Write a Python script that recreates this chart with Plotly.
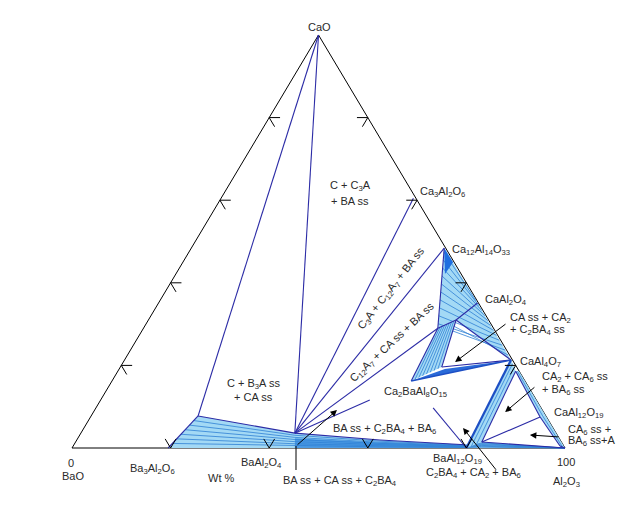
import math
import plotly.graph_objects as go

S3 = math.sqrt(3) / 2

# ---- Data: named compositions (wt% CaO, wt% Al2O3); BaO is the remainder ----
pt_names = ["CaO", "BaO", "Al2O3", "C3A", "C12A7", "CA", "CA2", "CA6", "BAss", "B3A", "BA", "BA6",
            "L1", "C2BA4", "Q", "P1", "W", "F2", "K", "R1", "R2", "R3", "R4", "E1",
            "G1", "G2", "T1", "T2", "Wt", "Wb"]
pt_cao = [100, 0, 0, 60.5, 48.4, 35.1, 21.3, 8.0, 3.6, 0, 0, 0,
          7.75, 16.2, 29.0, 31.0, 19.6, 11.6, 9.7, 18.6, 1.45, 7.5, 0.48, 18.6,
          1.94, 0.8, 45.0, 42.1, 19.1, 17.9]
pt_al2o3 = [0, 0, 100, 39.0, 51.3, 64.7, 78.4, 92.0, 43.4, 19.5, 40, 80,
            21.7, 60.7, 59.7, 62.4, 65.2, 54.6, 68.4, 80.7, 82.4, 91.2, 98.75, 81.4,
            61.5, 79.4, 54.8, 54.6, 66.1, 66.7]

tick_pct = [20, 40, 60, 80]

# tie-line / boundary segments (navy)
navy_segments = [("CaO", "L1"), ("L1", "BAss"), ("CaO", "BAss"), ("BAss", "C3A"), ("BAss", "C12A7"),
                 ("BAss", "Q"), ("BAss", "F2"), ("K", "BA6"), ("C12A7", "Q"), ("Q", "P1"),
                 ("P1", "CA"), ("P1", "CA2"), ("W", "CA2"), ("C2BA4", "Q"), ("W", "P1"),
                 ("R1", "R2"), ("R1", "R3"), ("R2", "R3"), ("R2", "Al2O3"), ("R3", "R4"),
                 ("R4", "Al2O3"), ("L1", "B3A"), ("BAss", "G1"), ("G1", "G2")]

# arrows: (tail CaO, tail Al2O3, head CaO, head Al2O3)
arrow_tail_cao = [30.27, 15.0, 2.66, -5.57, 0.48]
arrow_tail_al = [73.1, 86.6, 97.66, 89.0, 45.2]
arrow_head_cao = [20.8, 8.7, 3.15, 4.84, 9.2]
arrow_head_al = [67.3, 83.5, 91.3, 76.9, 49.15]
leader_cao = [-5.33, 0.48]
leader_al = [48.1, 45.2]


def to_xy(cao, al):
    return (al + cao / 2.0, cao * S3)


P = {n: to_xy(a, c) for n, a, c in zip(pt_names, pt_cao, pt_al2o3)}


def lerp(p, q, t):
    return (p[0] + (q[0] - p[0]) * t, p[1] + (q[1] - p[1]) * t)


def along(path, s):
    segs = []
    tot = 0.0
    for i in range(len(path) - 1):
        d = math.dist(path[i], path[i + 1])
        segs.append(d)
        tot += d
    target = s * tot
    for i, d in enumerate(segs):
        if target <= d or i == len(segs) - 1:
            return lerp(path[i], path[i + 1], min(1.0, target / d if d else 0))
        target -= d


def below(p):
    return (p[0], 0.0)


fig = go.Figure()


def add_line(pts, color, width=1.0, fill=None, fillcolor=None):
    xs, ys = [], []
    for p in pts:
        if p is None:
            xs.append(None); ys.append(None)
        else:
            xs.append(p[0]); ys.append(p[1])
    kw = {}
    if fill:
        kw = dict(fill="toself", fillcolor=fillcolor)
    fig.add_trace(go.Scatter(x=xs, y=ys, mode="lines", line=dict(color=color, width=width),
                             hoverinfo="skip", showlegend=False, **kw))


def add_poly(names_or_pts, fillcolor):
    pts = [P[n] if isinstance(n, str) else n for n in names_or_pts]
    pts.append(pts[0])
    add_line(pts, "rgba(0,0,0,0)", 0, fill=True, fillcolor=fillcolor)


LIGHT = "#a3d9f5"
STRIPE = "#2f80d4"
NAVY = "#2c2ca6"
MID = "#4c9be4"

# triangle outline
add_line([P["BaO"], P["CaO"], P["Al2O3"], P["BaO"]], "black", 1)

# ---- filled phase regions ----
# bottom solid-solution band
top_path = [P["L1"], P["BAss"], P["G1"], P["G2"], P["R2"], P["Al2O3"]]
bot_path = [P["B3A"], below(P["BAss"]), below(P["G1"]), below(P["G2"]), below(P["R2"]), P["Al2O3"]]
add_poly(top_path + bot_path[::-1], LIGHT)
add_poly([lerp(P["BAss"], below(P["BAss"]), 0.35), lerp(P["G1"], below(P["G1"]), 0.3),
          lerp(P["G2"], below(P["G2"]), 0.2), below(P["G2"]), below(P["BAss"])], MID)
pts = []
for i in range(1, 7):
    t = i / 7
    pts += [lerp(a, b, t) for a, b in zip(top_path, bot_path)] + [None]
add_line(pts, STRIPE, 0.8)

# C12A7 - CA - CA2 fan: tie lines from the inner boundary to the edge, converging toward CA2
add_poly(["C12A7", "CA", "CA2", "P1", "Q"], LIGHT)
left_path = [P["C12A7"], P["Q"], P["P1"]]
edge_path = [P["C12A7"], P["CA"], P["CA2"]]
pts = []
for i in range(0, 12):
    s = 0.04 + i * 0.08
    pts += [along(left_path, s), along(edge_path, 0.45 + 0.55 * s), None]
add_line(pts, STRIPE, 0.8)
add_poly(["C12A7", "T1", "T2"], "#1f6fe0")

# fan below Q-P1 toward C2BA4
add_poly(["C2BA4", "Q", "P1", "W"], LIGHT)
pts = []
for i in range(1, 8):
    t = i / 8
    pts += [lerp(P["C2BA4"], P["W"], t), lerp(P["Q"], P["P1"], t), None]
add_line(pts, STRIPE, 0.8)

# dark band C2BA4 - CA2
add_poly(["C2BA4", "Wt", "CA2", "Wb"], "#2a6ad8")

# CA2 - BA6 band
add_poly(["CA2", "R1", "R2", "BA6"], LIGHT)
pts = []
for t in (0.33, 0.66):
    pts += [lerp(P["CA2"], P["R1"], t), lerp(P["BA6"], P["R2"], t), None]
add_line(pts, STRIPE, 0.8)

# CA2 - CA6 band along the edge
add_poly(["R1", "E1", "CA6", "R3"], LIGHT)
add_line([lerp(P["R1"], P["E1"], 0.5), lerp(P["R3"], P["CA6"], 0.5)], STRIPE, 0.8)
# CA6 - A band
add_poly(["R3", "CA6", "Al2O3", "R4"], LIGHT)
add_line([lerp(P["R3"], P["CA6"], 0.5), lerp(P["R4"], P["Al2O3"], 0.5)], STRIPE, 0.8)

# navy boundaries
pts = []
for a, b in navy_segments:
    pts += [P[a], P[b], None]
add_line(pts, NAVY, 1.1)
add_line([P["CA2"], P["BA6"]], "#1d4fc4", 2.2)
add_line([P["C2BA4"], P["CA2"]], "#1d4fc4", 1.5)

# ---- ticks on the three edges ----
d = 2.2
pts = []
for k in tick_pct:
    base = to_xy(0, k)
    pts += [to_xy(d, k - d), base, to_xy(d, k), None]
    base = to_xy(k, 0)
    pts += [to_xy(k, d), base, to_xy(k - d, d), None]
    base = to_xy(k, 100 - k)
    pts += [to_xy(k, 100 - k - d), base, to_xy(k - d, 100 - k), None]
add_line(pts, "black", 1)

# leader line
add_line([to_xy(leader_cao[0], leader_al[0]), to_xy(leader_cao[1], leader_al[1])], "black", 1)

annotations = []
for tc, ta, hc, ha in zip(arrow_tail_cao, arrow_tail_al, arrow_head_cao, arrow_head_al):
    tx, ty = to_xy(tc, ta)
    hx, hy = to_xy(hc, ha)
    annotations.append(dict(x=hx, y=hy, ax=tx, ay=ty, xref="x", yref="y", axref="x", ayref="y",
                            text="", showarrow=True, arrowhead=2, arrowsize=1.3, arrowwidth=1,
                            arrowcolor="black"))

FONT = dict(family="Liberation Sans, Arial, sans-serif", size=11, color="#2a2a2a")


def label(x, y, text, xanchor="center", angle=0):
    annotations.append(dict(x=x, y=y, xref="x", yref="y", text=text, showarrow=False,
                            xanchor=xanchor, yanchor="middle", textangle=angle, font=FONT))


label(50.3, 88.3, "CaO")
label(70.2, 53.7, "Ca<sub>3</sub>Al<sub>2</sub>O<sub>6</sub>", "left")
label(56.4, 54.9, "C + C<sub>3</sub>A")
label(56.4, 51.8, "+ BA ss")
label(76.7, 41.5, "Ca<sub>12</sub>Al<sub>14</sub>O<sub>33</sub>", "left")
label(83.4, 31.0, "CaAl<sub>2</sub>O<sub>4</sub>", "left")
label(88.4, 27.3, "CA ss + CA<sub>2</sub>", "left")
label(88.4, 24.8, "+ C<sub>2</sub>BA<sub>4</sub> ss", "left")
label(90.5, 18.0, "CaAl<sub>4</sub>O<sub>7</sub>", "left")
label(94.9, 14.8, "CA<sub>2</sub> + CA<sub>6</sub> ss", "left")
label(94.9, 12.1, "+ BA<sub>6</sub> ss", "left")
label(97.4, 7.3, "CaAl<sub>12</sub>O<sub>19</sub>", "left")
label(100.2, 3.7, "CA<sub>6</sub> ss +", "left")
label(100.2, 1.4, "BA<sub>6</sub> ss+A", "left")
label(100.2, -3.0, "100")
label(100.4, -7.2, "Al<sub>2</sub>O<sub>3</sub>")
label(-0.3, -3.2, "0")
label(0.2, -5.8, "BaO")
label(16.3, -4.4, "Ba<sub>3</sub>Al<sub>2</sub>O<sub>6</sub>")
label(38.5, -3.1, "BaAl<sub>2</sub>O<sub>4</sub>")
label(30.2, -6.3, "Wt %")
label(54.4, -6.9, "BA ss + CA ss + C<sub>2</sub>BA<sub>4</sub>")
label(78.1, -2.3, "BaAl<sub>12</sub>O<sub>19</sub>")
label(81.5, -5.2, "C<sub>2</sub>BA<sub>4</sub> + CA<sub>2</sub> + BA<sub>6</sub>")
label(63.3, 4.0, "BA ss + C<sub>2</sub>BA<sub>4</sub> + BA<sub>6</sub>")
label(69.6, 11.7, "Ca<sub>2</sub>BaAl<sub>8</sub>O<sub>15</sub>")
label(36.9, 13.5, "C + B<sub>3</sub>A ss")
label(36.9, 10.7, "+ CA ss")
label(64.9, 33.5, "C<sub>3</sub>A + C<sub>12</sub>A<sub>7</sub> + BA ss", angle=-52)
label(65.1, 22.2, "C<sub>12</sub>A<sub>7</sub> + CA ss + BA ss", angle=-43)

fig.update_layout(
    width=622, height=518, autosize=False,
    margin=dict(l=0, r=0, t=0, b=0),
    paper_bgcolor="white", plot_bgcolor="white",
    xaxis=dict(range=[-72 / 4.93, 550 / 4.93], visible=False, fixedrange=True),
    yaxis=dict(range=[-70 / 4.769, 448 / 4.769], visible=False, fixedrange=True),
    annotations=annotations,
)

fig.write_html("out.html", config={"displayModeBar": False},
               post_script="document.body.style.margin='0';")
